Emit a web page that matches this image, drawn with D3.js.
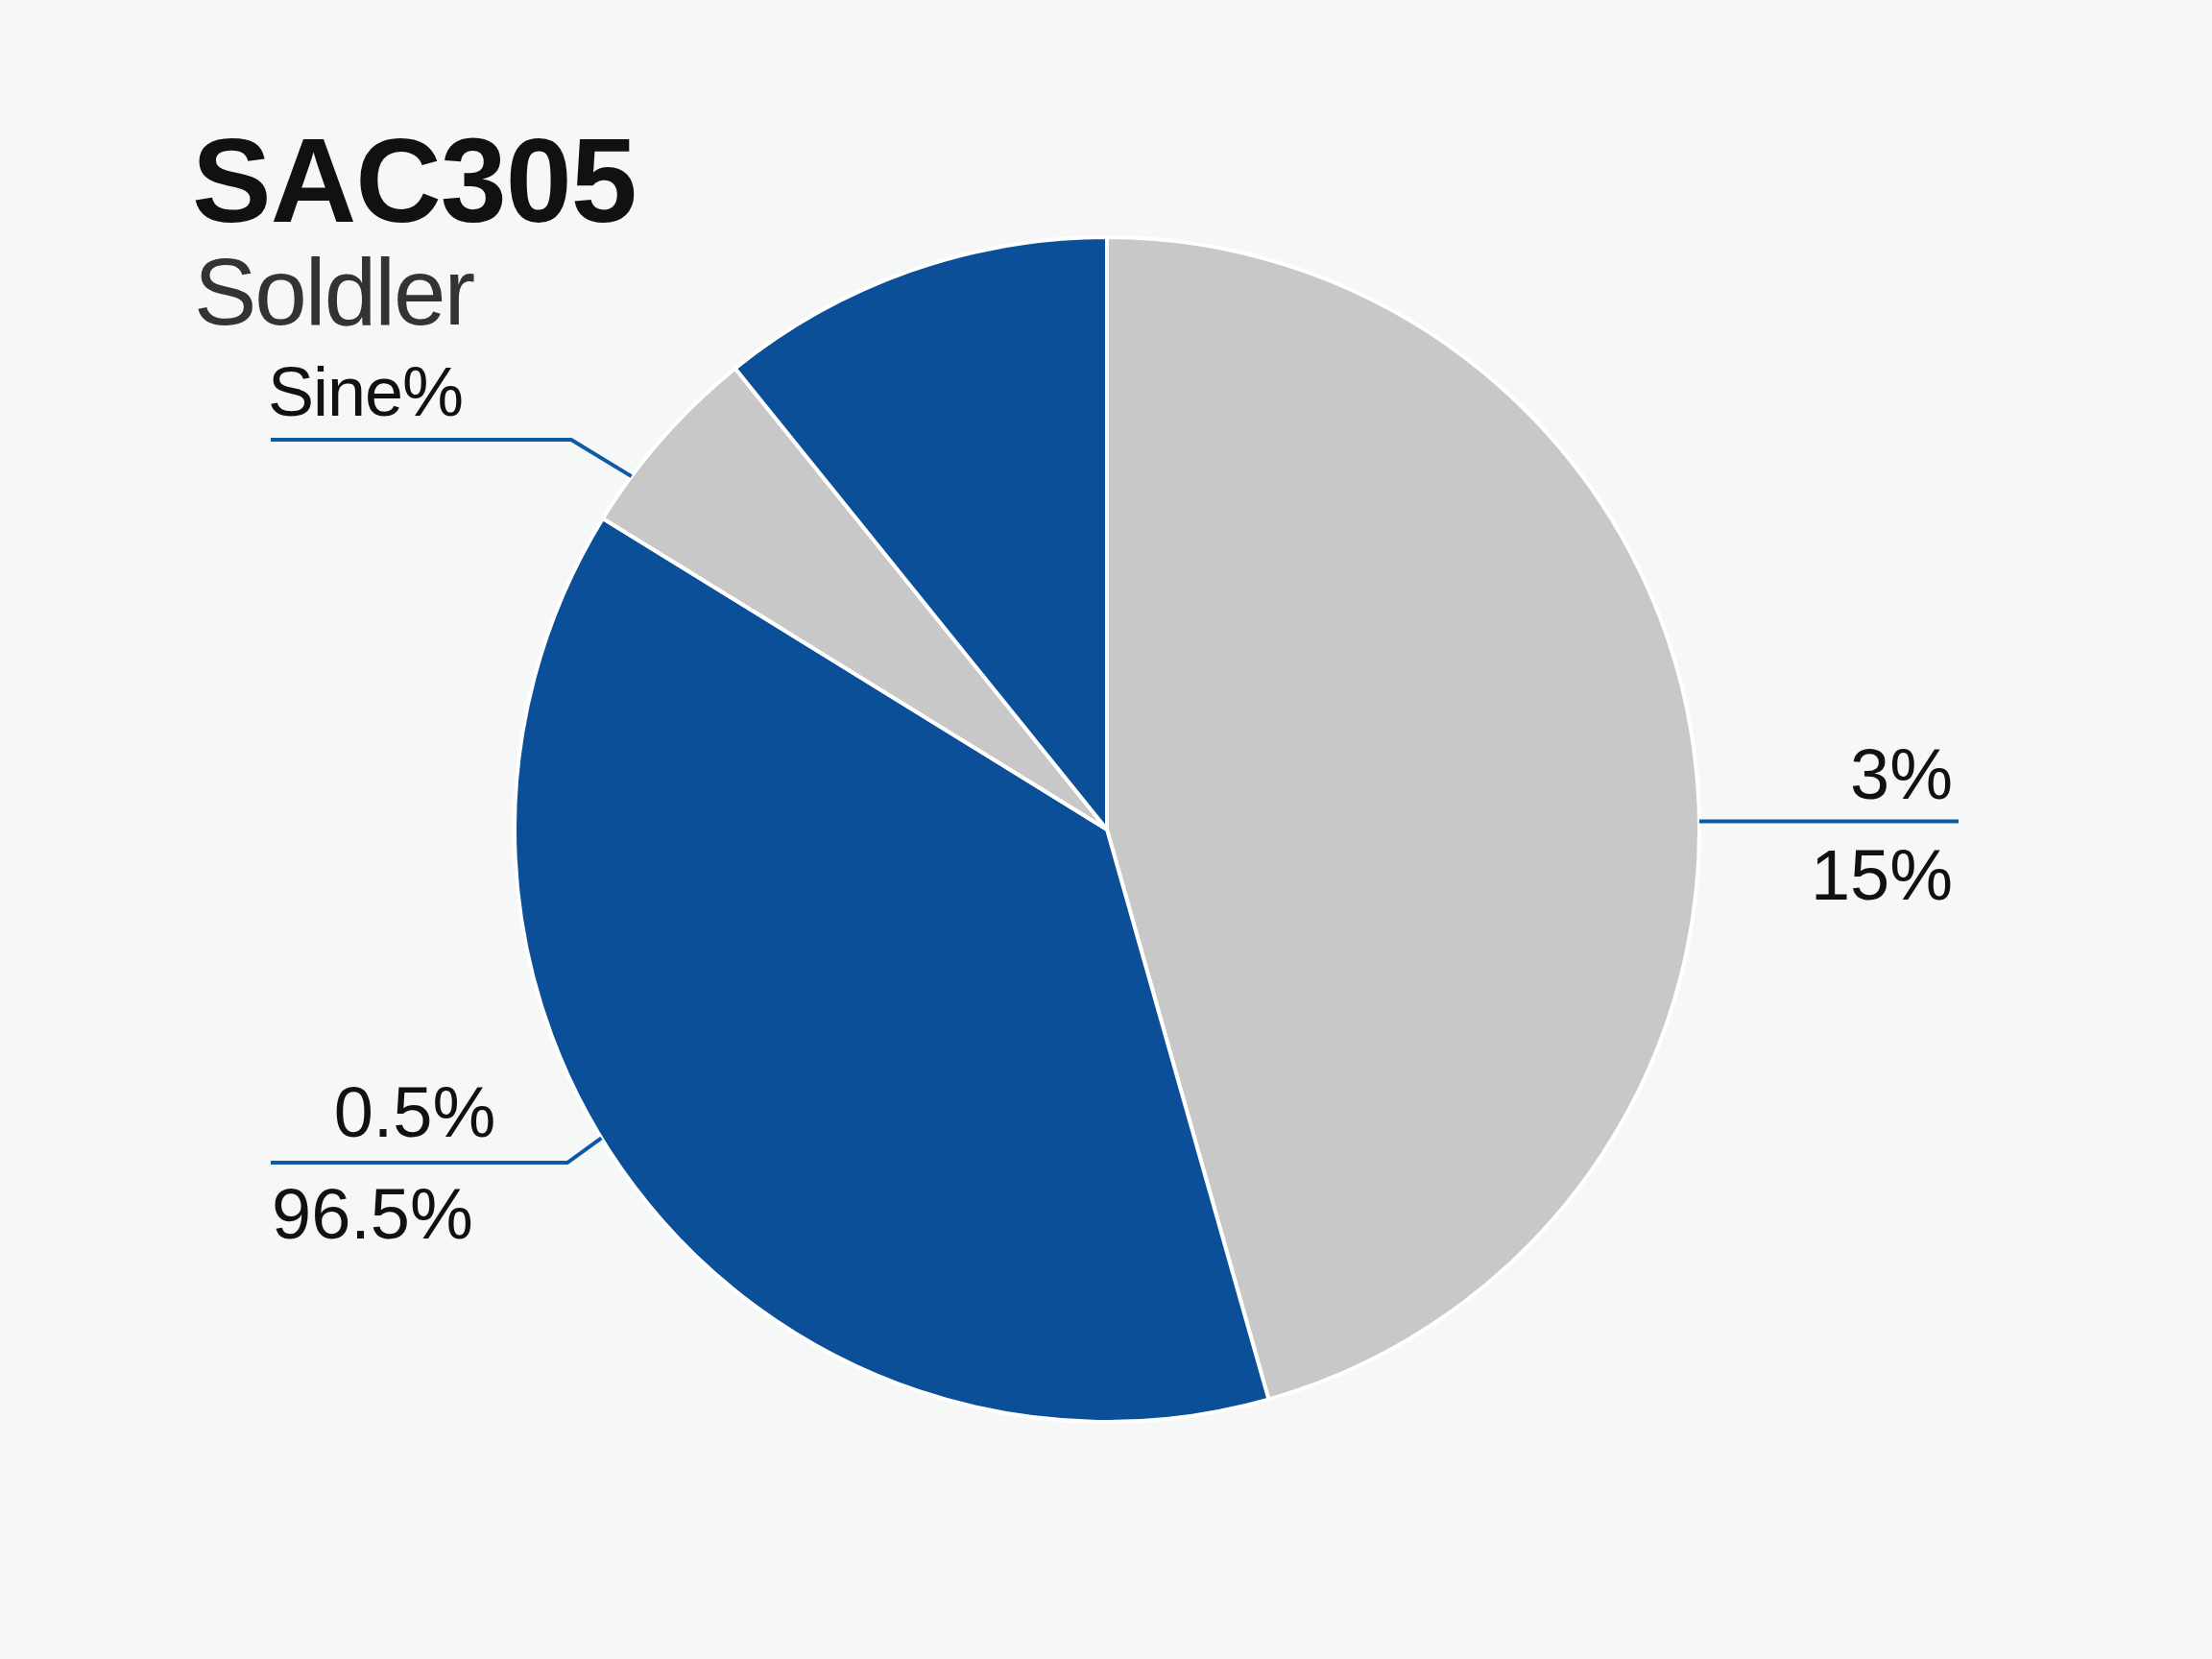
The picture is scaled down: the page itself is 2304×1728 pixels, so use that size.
<!DOCTYPE html>
<html>
<head>
<meta charset="utf-8">
<script src="https://cdn.jsdelivr.net/npm/d3@7"></script>
<style>
  html, body { margin: 0; padding: 0; background: #f6f7f7; }
  svg { display: block; }
  text { font-family: "Liberation Sans", Arial, Helvetica, sans-serif; fill: #111; }
</style>
</head>
<body>
<svg width="2304" height="1728"></svg>
<script>
// slices, clockwise from 12 o'clock (share of the circle, %)
var sliceNames = ["Sn", "Other A", "Ag", "Other B"];
var sliceValues = [45.6, 38.2, 5.4, 10.8];
var sliceColors = ["#c8c8c8", "#0a4f98", "#c8c8c8", "#0a4f98"];

// callout labels
var calloutTop = ["Sine%"];
var calloutRight = ["3%", "15%"];
var calloutLeft = ["0.5%", "96.5%"];

var svg = d3.select("svg");
var width = +svg.attr("width");
var height = +svg.attr("height");

var cx = 1153, cy = 864, radius = 617;
var blue = "#0f5aa6";

var pie = d3.pie().sort(null).value(function (d) { return d; });
var arc = d3.arc().innerRadius(0).outerRadius(radius);
var arcs = pie(sliceValues);

var g = svg.append("g").attr("transform", "translate(" + cx + "," + cy + ")");

g.selectAll("path.slice")
  .data(arcs)
  .enter().append("path")
  .attr("class", "slice")
  .attr("d", arc)
  .attr("fill", function (d, i) { return sliceColors[i]; })
  .attr("stroke", "#ffffff")
  .attr("stroke-width", 4)
  .attr("stroke-linejoin", "round");

// point on the rim at angle a (radians clockwise from 12 o'clock)
function rim(a) {
  return [cx + radius * Math.sin(a), cy - radius * Math.cos(a)];
}
var deg = Math.PI / 180;

// title
svg.append("text")
  .attr("x", 200).attr("y", 231)
  .attr("font-size", 124).attr("font-weight", "bold")
  .attr("letter-spacing", -1)
  .text("SAC305");
svg.append("text")
  .attr("x", 202).attr("y", 338)
  .attr("font-size", 98).attr("letter-spacing", -2)
  .style("fill", "#333")
  .text("Soldler");

var line = d3.line();

// top-left callout, pointing into the small grey slice
var pTop = rim(306.6 * deg);
svg.append("path")
  .attr("d", line([[282, 458], [595, 458], pTop]))
  .attr("fill", "none").attr("stroke", blue).attr("stroke-width", 4);
svg.append("text")
  .attr("x", 279).attr("y", 433)
  .attr("font-size", 72).attr("letter-spacing", -1)
  .text(calloutTop[0]);

// right callout, on the big grey slice
var pRight = rim(89.2 * deg);
svg.append("path")
  .attr("d", line([pRight, [2040, pRight[1]]]))
  .attr("fill", "none").attr("stroke", blue).attr("stroke-width", 4);
svg.selectAll("text.right")
  .data(calloutRight)
  .enter().append("text")
  .attr("class", "right")
  .attr("x", 2034)
  .attr("y", function (d, i) { return i === 0 ? 832 : 937; })
  .attr("text-anchor", "end")
  .attr("font-size", 74)
  .text(function (d) { return d; });

// lower-left callout, on the big blue slice
var pLeft = rim(238.6 * deg);
svg.append("path")
  .attr("d", line([[282, 1211], [591, 1211], pLeft]))
  .attr("fill", "none").attr("stroke", blue).attr("stroke-width", 4);
svg.append("text")
  .attr("x", 432).attr("y", 1184)
  .attr("text-anchor", "middle")
  .attr("font-size", 74)
  .text(calloutLeft[0]);
svg.append("text")
  .attr("x", 283).attr("y", 1290)
  .attr("font-size", 74)
  .text(calloutLeft[1]);
</script>
</body>
</html>
